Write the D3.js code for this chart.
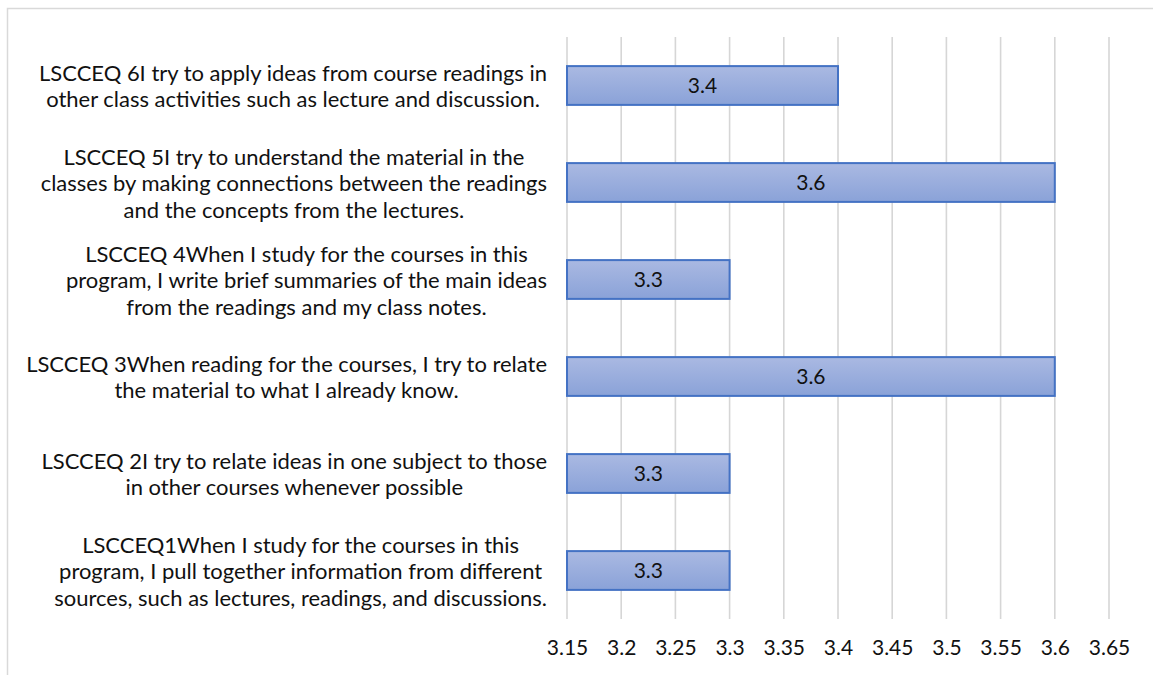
<!DOCTYPE html>
<html>
<head>
<meta charset="utf-8">
<script src="https://cdn.jsdelivr.net/npm/d3@7"></script>
<style>
  html, body { margin: 0; padding: 0; background: #fff; }
  svg { display: block; }
  text { font-family: Lato, "Open Sans", sans-serif; }
</style>
</head>
<body>
<svg id="chart" width="1153" height="675"></svg>
<script>
// ---- data (top to bottom as displayed) ----
const categories = [
  "LSCCEQ 6I try to apply ideas from course readings in\nother class activities such as lecture and discussion.",
  "LSCCEQ 5I try to understand the material in the\nclasses by making connections between the readings\nand the concepts from the lectures.",
  "LSCCEQ 4When I study for the courses in this\nprogram, I write brief summaries of the main ideas\nfrom the readings and my class notes.",
  "LSCCEQ 3When reading for the courses, I try to relate\nthe material to what I already know.",
  "LSCCEQ 2I try to relate ideas in one subject to those\nin other courses whenever possible",
  "LSCCEQ1When I study for the courses in this\nprogram, I pull together information from different\nsources, such as lectures, readings, and discussions."
];
const values = [3.4, 3.6, 3.3, 3.6, 3.3, 3.3];
const valueLabels = ["3.4", "3.6", "3.3", "3.6", "3.3", "3.3"];
const tickValues = [3.15, 3.2, 3.25, 3.3, 3.35, 3.4, 3.45, 3.5, 3.55, 3.6, 3.65];
const tickLabels = ["3.15", "3.2", "3.25", "3.3", "3.35", "3.4", "3.45", "3.5", "3.55", "3.6", "3.65"];

// ---- layout ----
const svg = d3.select("#chart");
const plot = { left: 567, right: 1109, top: 37, bottom: 619 };

const x = d3.scaleLinear().domain([3.15, 3.65]).range([plot.left, plot.right]);
const y = d3.scaleBand().domain(categories).range([plot.top, plot.bottom])
  .paddingInner(0.6).paddingOuter(0.3);

// chart area border
svg.append("rect")
  .attr("x", 7.5).attr("y", 8.5).attr("width", 1160).attr("height", 680)
  .attr("fill", "#fff").attr("stroke", "#d9d9d9").attr("stroke-width", 1.5);

// gradient
const defs = svg.append("defs");
const grad = defs.append("linearGradient").attr("id", "barGrad")
  .attr("x1", 0).attr("y1", 0).attr("x2", 0).attr("y2", 1);
grad.append("stop").attr("offset", "0%").attr("stop-color", "#aab9e2");
grad.append("stop").attr("offset", "100%").attr("stop-color", "#8aa2d8");

// gridlines
svg.append("g").selectAll("line").data(tickValues).join("line")
  .attr("x1", d => x(d)).attr("x2", d => x(d))
  .attr("y1", plot.top).attr("y2", plot.bottom)
  .attr("stroke", "#d6d6d6").attr("stroke-width", 1.6);

// bars
const data = categories.map((c, i) => ({ c, v: values[i], l: valueLabels[i] }));
svg.append("g").selectAll("rect").data(data).join("rect")
  .attr("x", x(3.15))
  .attr("y", d => y(d.c))
  .attr("width", d => x(d.v) - x(3.15))
  .attr("height", y.bandwidth())
  .attr("fill", "url(#barGrad)")
  .attr("stroke", "#4472c4").attr("stroke-width", 2);

// value labels
svg.append("g").selectAll("text").data(data).join("text")
  .attr("x", d => (x(3.15) + x(d.v)) / 2)
  .attr("y", d => y(d.c) + y.bandwidth() / 2)
  .attr("dy", "0.36em")
  .attr("text-anchor", "middle")
  .attr("font-size", 21)
  .attr("fill", "#111")
  .text(d => d.l);

// x axis tick labels
const xAxis = d3.axisBottom(x).tickValues(tickValues)
  .tickFormat((d, i) => tickLabels[i]).tickSize(0).tickPadding(0);
const ax = svg.append("g").attr("transform", `translate(0, ${plot.bottom + 21})`).call(xAxis);
ax.select(".domain").remove();
ax.selectAll("text").attr("font-size", 21).attr("fill", "#111")
  .attr("font-family", 'Lato, "Open Sans", sans-serif');

// category labels (lines centred within a right-aligned block)
const labelRight = 547;
const targetMaxWidth = 521;
const baseSize = 20;
const catG = svg.append("g");
const probe = catG.append("text").attr("font-size", baseSize);
let maxW = 0;
categories.forEach(c => c.split("\n").forEach(line => {
  probe.text(line);
  maxW = Math.max(maxW, probe.node().getComputedTextLength());
}));
probe.remove();
const fs = baseSize * targetMaxWidth / maxW;
const lineH = 26.5;

categories.forEach(c => {
  const lines = c.split("\n");
  const t = catG.append("text").attr("font-size", fs).attr("fill", "#111");
  let bw = 0;
  lines.forEach(line => {
    t.text(line);
    bw = Math.max(bw, t.node().getComputedTextLength());
  });
  t.text(null);
  const cx = labelRight - bw / 2;
  const cy = y(c) + y.bandwidth() / 2 + 1;
  const y0 = cy - (lines.length - 1) * lineH / 2;
  lines.forEach((line, i) => {
    t.append("tspan").attr("x", cx).attr("y", y0 + i * lineH)
      .attr("dy", "0.35em").attr("text-anchor", "middle").text(line);
  });
});
</script>
</body>
</html>
